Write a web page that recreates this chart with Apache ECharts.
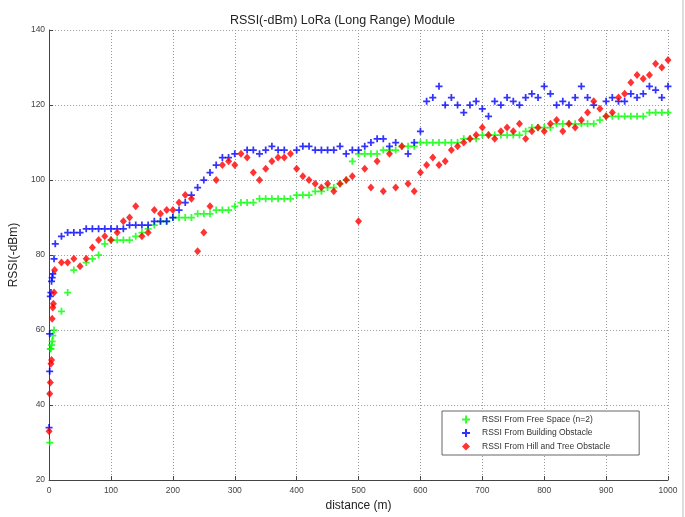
<!DOCTYPE html>
<html>
<head>
<meta charset="utf-8">
<script src="https://cdn.jsdelivr.net/npm/echarts@6/dist/echarts.min.js"></script>
<style>
html,body{margin:0;padding:0;background:#fff;}
#chart{width:685px;height:517px;}
</style>
</head>
<body>
<div id="chart"></div>
<script>
// ---- Data ----
var freeDist = [1,2,3,4,5,6,8,20,30,40,60,70,80,90,100,110,120,130,140,150,160,170,180,190,200,210,220,230,240,250,260,270,280,290,300,310,320,330,340,350,360,370,380,390,400,410,420,430,440,450,460,470,480,490,500,510,520,530,540,550,560,570,580,590,600,610,620,630,640,650,660,670,680,690,700,710,720,730,740,750,760,770,780,790,800,810,820,830,840,850,860,870,880,890,900,910,920,930,940,950,960,970,980,990,1000];
var freeRssi = [30,55,55,56,57,58.5,60,65,70,76,78,79,80,83,84,84,84,84,85,86,87,88,89,89,90,90,90,90,91,91,91,92,92,92,93,94,94,94,95,95,95,95,95,95,96,96,96,97,97,98,98,99,100,105,107,107,107,107,108,108,108,109,109,109,110,110,110,110,110,110,110,111,111,111,112,112,112,112,112,112,112,113,114,114,114,114,115,115,115,115,115,115,115,116,117,117,117,117,117,117,117,118,118,118,118];

var buildDist = [0,1,1,2,3,4,5,6,8,10,20,30,40,50,60,70,80,90,100,110,120,130,140,150,160,170,180,190,200,210,220,230,240,250,260,270,280,290,300,320,330,340,350,360,370,380,400,410,420,430,440,450,460,470,480,490,500,510,520,530,540,550,560,580,590,600,610,620,630,640,650,660,670,680,690,700,710,720,730,740,750,760,770,780,790,800,810,820,830,840,850,860,870,880,900,910,920,930,940,950,960,970,980,990,1000];
var buildRssi = [34,49,59,69,70,73,74,75,79,83,85,86,86,86,87,87,87,87,87,87,87,88,88,88,88,89,89,89,90,92,94,96,98,100,102,104,106,106,107,108,108,107,108,109,108,108,108,109,109,108,108,108,108,109,107,108,108,109,110,111,111,109,110,107,110,113,121,122,125,120,122,120,118,120,121,119,117,121,120,122,121,120,122,123,122,125,123,120,121,120,122,125,122,120,121,122,121,121,123,122,123,125,124,122,125];

var hillDist = [0,1,2,3,4,5,6,7,8,9,20,30,40,50,60,70,80,90,100,110,120,130,140,150,160,170,180,190,200,210,220,230,240,250,260,270,280,290,300,310,320,330,340,350,360,370,380,390,400,410,420,430,440,450,460,470,480,490,500,510,520,530,540,550,560,570,580,590,600,610,620,630,640,650,660,670,680,690,700,710,720,730,740,750,760,770,780,790,800,810,820,830,840,850,860,870,880,890,900,910,920,930,940,950,960,970,980,990,1000];
var hillRssi = [33,43,46,51,52,63,66,67,70,76,78,78,79,77,79,82,84,85,84,86,89,90,93,85,86,92,91,92,92,94,96,95,81,86,93,100,104,105,104,107,106,102,100,103,105,106,106,107,103,101,100,99,98,99,97,99,100,101,89,103,98,105,97,107,98,109,99,97,102,104,106,104,105,108,109,110,111,112,114,112,111,113,114,113,115,111,113,114,113,115,116,113,115,114,116,118,121,119,117,118,122,123,126,128,127,128,131,130,132];

var seriesNames = ['RSSI From Free Space (n=2)','RSSI From Building Obstacle','RSSI From Hill and Tree Obstacle'];
var titleText = 'RSSI(-dBm) LoRa (Long Range) Module';
var xName = 'distance (m)';
var yName = 'RSSI(-dBm)';

function zip(a,b){var r=[];for(var i=0;i<a.length;i++){r.push([a[i],b[i]]);}return r;}

var plusPath = 'path://M3,0H5V3H8V5H5V8H3V5H0V3H3Z';
var font = 'Liberation Sans, Arial, sans-serif';

var chart = echarts.init(document.getElementById('chart'));
chart.setOption({
  animation:false,
  backgroundColor:'#fff',
  title:{text:titleText,left:'center',top:9,textStyle:{fontFamily:font,fontSize:12.5,fontWeight:'normal',color:'#222'}},
  grid:{left:48,right:17,top:30,bottom:32},
  xAxis:{type:'value',min:0,max:1000,interval:100,
    name:xName,nameLocation:'middle',nameGap:20,
    nameTextStyle:{fontFamily:font,fontSize:12,color:'#222'},
    axisLine:{onZero:false,lineStyle:{color:'#444',width:1}},
    axisTick:{inside:true,length:4,lineStyle:{color:'#444'}},
    axisLabel:{fontFamily:font,fontSize:8.5,color:'#444',margin:6,formatter:function(v){return String(v);}},
    splitLine:{show:true,lineStyle:{color:'#999',type:[1,2],width:1}}
  },
  yAxis:{type:'value',min:20,max:140,interval:20,
    name:yName,nameLocation:'middle',nameGap:25,nameRotate:90,
    nameTextStyle:{fontFamily:font,fontSize:12,color:'#222'},
    axisLine:{onZero:false,lineStyle:{color:'#444',width:1}},
    axisTick:{inside:true,length:4,lineStyle:{color:'#444'}},
    axisLabel:{fontFamily:font,fontSize:8.5,color:'#444',margin:4,formatter:function(v){return String(v);}},
    splitLine:{show:true,lineStyle:{color:'#999',type:[1,2],width:1}}
  },
  legend:{orient:'vertical',left:442,top:411,
    padding:[4,29,4,20],itemGap:4.5,itemWidth:8,itemHeight:8,
    backgroundColor:'#fff',borderColor:'#666',borderWidth:1,
    textStyle:{fontFamily:font,fontSize:8.5,color:'#333',padding:[0,0,0,7]},
    data:[{name:seriesNames[0],icon:plusPath},{name:seriesNames[1],icon:plusPath},{name:seriesNames[2],icon:'diamond'}]
  },
  graphic:[{type:'line',shape:{x1:683,y1:0,x2:683,y2:517},style:{stroke:'#bbb',lineWidth:1}}],
  series:[
    {name:seriesNames[0],type:'scatter',data:zip(freeDist,freeRssi),symbol:plusPath,symbolSize:7,itemStyle:{color:'#00ff00'},z:3},
    {name:seriesNames[1],type:'scatter',data:zip(buildDist,buildRssi),symbol:plusPath,symbolSize:7,itemStyle:{color:'#0000ff'},z:4},
    {name:seriesNames[2],type:'scatter',data:zip(hillDist,hillRssi),symbol:'diamond',symbolSize:[7,8],itemStyle:{color:'#ff0000'},z:5}
  ]
});
</script>
</body>
</html>
